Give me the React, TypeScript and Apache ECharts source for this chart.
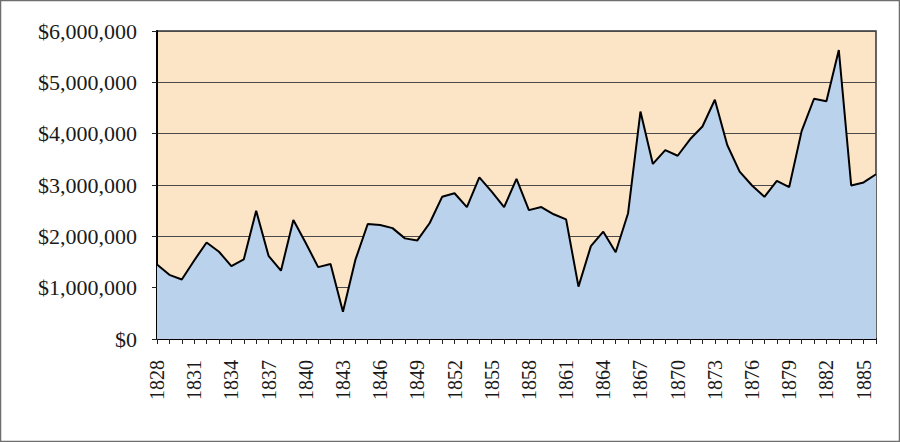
import React, { useEffect, useRef } from "react";
import * as echarts from "echarts";

const years: string[] = [];
for (let y = 1828; y <= 1886; y++) years.push(String(y));

const values: number[] = [
  1450000, 1250000, 1160000, 1530000, 1880000, 1700000, 1420000, 1550000, 2500000, 1620000,
  1330000, 2320000, 1870000, 1400000, 1460000, 530000, 1540000, 2240000, 2220000, 2160000,
  1960000, 1920000, 2260000, 2770000, 2840000, 2570000, 3150000, 2870000, 2570000, 3120000,
  2510000, 2570000, 2430000, 2330000, 1020000, 1810000, 2090000, 1690000, 2450000, 4430000,
  3410000, 3680000, 3570000, 3890000, 4140000, 4660000, 3780000, 3260000, 2990000, 2770000,
  3080000, 2960000, 4050000, 4680000, 4630000, 5630000, 2990000, 3050000, 3210000,
];

const yTicks = { min: 0, max: 6000000, interval: 1000000 };

export default function App() {
  const ref = useRef<HTMLDivElement>(null);
  useEffect(() => {
    document.body.style.margin = "0";
    const chart = echarts.init(ref.current!, undefined, { renderer: "svg" });
    const font = "Liberation Serif";
    chart.setOption({
      animation: false,
      backgroundColor: "#ffffff",
      graphic: [
        {
          type: "rect",
          shape: { x: 0.5, y: 0.5, width: 899, height: 441 },
          style: { fill: "none", stroke: "#6e6e6e", lineWidth: 1.5 },
          silent: true,
        },
      ],
      grid: {
        left: 157,
        right: 24,
        top: 31,
        bottom: 103,
        show: true,
        backgroundColor: "#FCE5C6",
        borderColor: "#333333",
        borderWidth: 1.5,
      },
      xAxis: {
        type: "category",
        data: years,
        boundaryGap: false,
        axisLine: { show: true, lineStyle: { color: "#000", width: 2 } },
        axisTick: { show: true, interval: 0, length: 5, lineStyle: { color: "#222", width: 1 } },
        axisLabel: {
          interval: 2,
          rotate: 90,
          margin: 21,
          color: "#1a1a1a",
          fontFamily: font,
          fontSize: 20,
        },
        splitLine: { show: false },
      },
      yAxis: {
        type: "value",
        min: yTicks.min,
        max: yTicks.max,
        interval: yTicks.interval,
        axisLine: { show: true, lineStyle: { color: "#000", width: 2 } },
        axisTick: { show: true, length: 5, lineStyle: { color: "#222", width: 1 } },
        axisLabel: {
          margin: 20,
          color: "#1a1a1a",
          fontFamily: font,
          fontSize: 22,
          formatter: (v: number) => "$" + v.toLocaleString("en-US"),
        },
        splitLine: { show: true, lineStyle: { color: "#4a4a4a", width: 1 } },
      },
      series: [
        {
          type: "line",
          data: values,
          symbol: "none",
          lineStyle: { color: "#000", width: 2 },
          areaStyle: { color: "#BBD2EC", opacity: 1 },
          z: 3,
        },
      ],
    });
    return () => chart.dispose();
  }, []);
  return <div ref={ref} style={{ width: 900, height: 442 }} />;
}
